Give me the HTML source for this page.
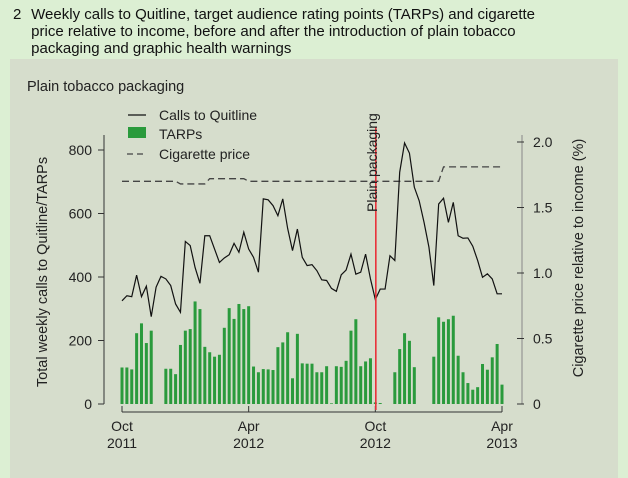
<!DOCTYPE html>
<html><head><meta charset="utf-8"><style>
body{margin:0;width:628px;height:478px;overflow:hidden;background:#dcefd3;font-family:"Liberation Sans",sans-serif;}
#title{position:absolute;left:13px;top:6px;font-size:15px;line-height:17px;color:#111;}
#panel{position:absolute;left:10px;top:59px;width:608px;height:419px;background:#d6ddcc;}
svg{position:absolute;left:0;top:0}
</style></head><body>
<div id="title"><span style="display:inline-block;width:14px">2</span> Weekly calls to Quitline, target audience rating points (TARPs) and cigarette<br><span style="display:inline-block;width:14px"></span> price relative to income, before and after the introduction of plain tobacco<br><span style="display:inline-block;width:14px"></span> packaging and graphic health warnings</div>
<div id="panel"></div>
<svg id="chart" width="628" height="478"></svg>
<script>
const tarps=[115,115,109,223,254,192,231,0,0,111,111,94,186,231,236,323,299,180,163,149,155,240,302,268,315,299,308,118,100,110,109,107,179,194,226,81,221,128,127,127,100,100,119,2,119,117,136,231,267,119,134,144,5,3,0,0,100,173,223,199,116,0,0,0,149,273,259,267,278,152,100,66,45,53,126,108,147,189,61];
const calls=[325,341,338,406,338,371,275,368,402,394,373,315,289,512,499,430,380,530,530,488,446,460,470,506,478,541,488,462,415,646,643,625,593,646,553,483,551,462,436,439,420,391,389,364,355,407,422,472,409,415,472,394,329,362,362,467,452,730,822,790,683,640,572,494,373,630,648,572,635,530,522,523,497,452,399,410,394,347,347];
const price=[1.70,1.70,1.70,1.70,1.70,1.70,1.70,1.70,1.70,1.70,1.70,1.70,1.68,1.68,1.68,1.68,1.68,1.68,1.72,1.72,1.72,1.72,1.72,1.72,1.72,1.72,1.70,1.70,1.70,1.70,1.70,1.70,1.70,1.70,1.70,1.70,1.70,1.70,1.70,1.70,1.70,1.70,1.70,1.70,1.70,1.70,1.70,1.70,1.70,1.70,1.70,1.70,1.70,1.70,1.70,1.70,1.70,1.70,1.70,1.70,1.70,1.70,1.70,1.70,1.70,1.70,1.81,1.81,1.81,1.81,1.81,1.81,1.81,1.81,1.81,1.81,1.81,1.81,1.81];
const leftTicks=[0,200,400,600,800];
const rightTicks=[0,0.5,1.0,1.5,2.0];
const rightLabels=["0","0.5","1.0","1.5","2.0"];
const xTickWeeks=[0,26,52,78];
const xTickLabels=[["Oct","2011"],["Apr","2012"],["Oct","2012"],["Apr","2013"]];
const plainWeek=52.1;

const NS="http://www.w3.org/2000/svg";
const svg=document.getElementById('chart');
const X=i=>122+i*(380/78);
const YL=v=>404-v*(254/800);
const YR=v=>404-v*131;
function mk(tag,attrs,parent){const e=document.createElementNS(NS,tag);for(const k in attrs)e.setAttribute(k,attrs[k]);(parent||svg).appendChild(e);return e;}
function txt(s,x,y,attrs){const e=mk('text',Object.assign({x:x,y:y,'font-size':14,fill:'#222','font-family':'Liberation Sans, sans-serif'},attrs||{}));e.textContent=s;return e;}

let t=txt("Plain tobacco packaging",27,91,{'font-size':14.5});



// left axis
let g=mk('g',{});


mk('line',{x1:104,y1:135,x2:104,y2:404,stroke:'#333','stroke-width':1},g);
leftTicks.forEach(v=>{mk('line',{x1:98,x2:104,y1:YL(v),y2:YL(v),stroke:'#333'},g);
 const l=txt(String(v),92,YL(v)+5,{'text-anchor':'end'});g.appendChild(l);
 
 });
// right axis
g=mk('g',{});


mk('line',{x1:522,y1:135,x2:522,y2:404,stroke:'#888'},g);
rightTicks.forEach((v,i)=>{mk('line',{x1:517,x2:524,y1:YR(v),y2:YR(v),stroke:'#333'},g);
 const l=txt(rightLabels[i],533,YR(v)+5);g.appendChild(l);
 
 });
// x axis
g=mk('g',{});


mk('line',{x1:X(0),x2:X(78),y1:412,y2:412,stroke:'#333'},g);
xTickWeeks.forEach((w,i)=>{mk('line',{x1:X(w),x2:X(w),y1:406,y2:412,stroke:'#333'},g);
 const a=txt(xTickLabels[i][0],X(w),431,{'text-anchor':'middle'});g.appendChild(a);
 
 
 const b=txt(xTickLabels[i][1],X(w),448,{'text-anchor':'middle'});g.appendChild(b);
 
 });
// axis titles
t=txt("Total weekly calls to Quitline/TARPs",0,0,{'text-anchor':'middle',transform:'translate(47,272) rotate(-90)','font-size':14.5});


t=txt("Cigarette price relative to income (%)",0,0,{'text-anchor':'middle',transform:'translate(583,258) rotate(-90)','font-size':14.5});


// bars
g=mk('g',{});


tarps.forEach((v,i)=>{if(v<=0)return;const b=mk('rect',{x:X(i)-1.5,y:YL(v),width:3,height:YL(0)-YL(v),fill:'#2a9a3c'},g);
 
 });
// price
let p=mk('polyline',{points:price.map((v,i)=>X(i)+','+YR(v)).join(' '),fill:'none',stroke:'#444','stroke-width':1.3,'stroke-dasharray':'7,4'});


// calls
p=mk('polyline',{points:calls.map((v,i)=>X(i)+','+YL(v)).join(' '),fill:'none',stroke:'#111','stroke-width':1.2});


// plain packaging marker
const rx=X(plainWeek);
p=mk('line',{x1:rx,x2:rx,y1:127,y2:410,stroke:'#e8303a','stroke-width':1.6});


t=txt("Plain packaging",0,0,{transform:`translate(${rx+1},212) rotate(-90)`});


// legend
g=mk('g',{});


mk('line',{x1:128,x2:146,y1:115,y2:115,stroke:'#111','stroke-width':1.3},g);
mk('rect',{x:128,y:127,width:18,height:11,fill:'#2a9a3c'},g);
mk('line',{x1:127,x2:147,y1:154,y2:154,stroke:'#444','stroke-width':1.3,'stroke-dasharray':'6,4'},g);
[["Calls to Quitline",120],["TARPs",139],["Cigarette price",159]].forEach(d=>{const l=txt(d[0],159,d[1]);g.appendChild(l);
 
 });
</script>
</body></html>
